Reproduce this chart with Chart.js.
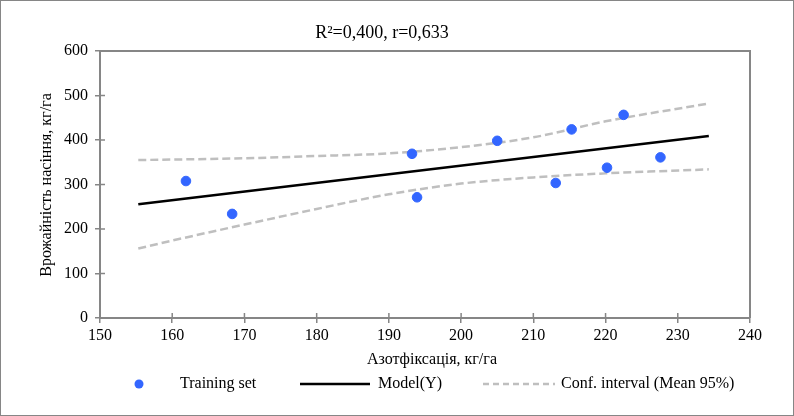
<!DOCTYPE html>
<html>
<head>
<meta charset="utf-8">
<script src="https://cdn.jsdelivr.net/npm/chart.js@4.4.0/dist/chart.umd.min.js"></script>
<style>
  body { margin: 0; background: #fff; }
  #wrap { width: 794px; height: 416px; position: relative; }
</style>
</head>
<body>
<div id="wrap"><canvas id="scatterChart"></canvas></div>
<script>
const ctx = document.getElementById('scatterChart');

// training set
const nitrogenFix = [161.9, 168.3, 193.2, 193.9, 205.0, 215.3, 213.1, 220.2, 222.5, 227.6];
const seedYield = [307.8, 233.9, 369.0, 271.3, 398.2, 423.8, 303.4, 337.7, 456.5, 361.0];

// model line ends
const modelX = [155.3, 234.3];
const modelY = [255.6, 408.8];

// confidence band (mean 95%)
const ciX = [155.3, 160, 170, 180, 190, 200, 210, 220, 234.3];
const ciUpper = [355, 356, 359, 364, 370, 384, 406, 442, 482];
const ciLower = [156, 174, 210, 245, 278, 302, 316, 325, 334];

const xTicks = [150, 160, 170, 180, 190, 200, 210, 220, 230, 240];
const yTicks = [0, 100, 200, 300, 400, 500, 600];

const titleText = 'R²=0,400, r=0,633';
const xTitle = 'Азотфіксація, кг/га';
const yTitle = 'Врожайність насіння, кг/га';
const legendLabels = ['Training set', 'Model(Y)', 'Conf. interval (Mean 95%)'];

const FONT = "'Liberation Serif', 'Times New Roman', serif";
const AXIS_GRAY = '#868686';

function pts(xs, ys) {
    return xs.map((x, i) => ({ x: x, y: ys[i] }));
}

// frame, titles, inner tick halves and custom legend
const decor = {
    id: 'decor',
    afterDraw(chart) {
        const c = chart.ctx;
        const a = chart.chartArea;
        const xs = chart.scales.x, ys = chart.scales.y;
        c.save();
        c.strokeStyle = AXIS_GRAY;
        c.lineWidth = 1;
        c.strokeRect(0.5, 0.5, chart.width - 1, chart.height - 1);

        c.lineWidth = 2;
        c.beginPath();
        c.moveTo(a.left, a.top); c.lineTo(a.right, a.top); c.lineTo(a.right, a.bottom);
        c.stroke();

        c.lineWidth = 1.5;
        c.beginPath();
        xs.ticks.forEach(t => {
            const px = xs.getPixelForValue(t.value);
            c.moveTo(px, a.bottom); c.lineTo(px, a.bottom - 5);
        });
        ys.ticks.forEach(t => {
            const py = ys.getPixelForValue(t.value);
            c.moveTo(a.left, py); c.lineTo(a.left + 5, py);
        });
        c.stroke();

        c.fillStyle = '#000';
        c.textBaseline = 'middle';
        c.textAlign = 'center';
        c.font = '18px ' + FONT;
        c.fillText(titleText, 382, 33);

        c.font = '16px ' + FONT;
        c.fillText(xTitle, 432, 360);
        c.save();
        c.translate(47, 185);
        c.rotate(-Math.PI / 2);
        c.fillText(yTitle, 0, 0);
        c.restore();

        // legend
        const ly = 384;
        const d = chart.data.datasets;
        c.fillStyle = d[0].backgroundColor;
        c.beginPath();
        c.arc(139, ly, 4.5, 0, Math.PI * 2);
        c.fill();

        c.strokeStyle = d[1].borderColor;
        c.lineWidth = d[1].borderWidth;
        c.beginPath(); c.moveTo(300, ly); c.lineTo(370, ly); c.stroke();

        c.strokeStyle = d[2].borderColor;
        c.lineWidth = d[2].borderWidth;
        c.setLineDash([6, 4]);
        c.beginPath(); c.moveTo(483, ly); c.lineTo(555, ly); c.stroke();
        c.setLineDash([]);

        c.fillStyle = '#000';
        c.textAlign = 'left';
        c.fillText(legendLabels[0], 180, ly);
        c.fillText(legendLabels[1], 378, ly);
        c.fillText(legendLabels[2], 561, ly);
        c.restore();
    }
};

const ciStyle = {
    type: 'line',
    showLine: true,
    borderColor: '#bfbfbf',
    borderWidth: 2.5,
    borderDash: [8, 4],
    pointRadius: 0,
    fill: false,
    cubicInterpolationMode: 'monotone'
};

var chart = {
    type: 'scatter',
    data: {
        datasets: [
            {
                label: legendLabels[0],
                data: pts(nitrogenFix, seedYield),
                backgroundColor: '#3366ff',
                borderColor: '#3366ff',
                pointRadius: 4.8,
                pointHoverRadius: 4.8,
                order: 0
            },
            {
                label: legendLabels[1],
                type: 'line',
                data: pts(modelX, modelY),
                borderColor: '#000',
                borderWidth: 2.5,
                pointRadius: 0,
                fill: false,
                order: 1
            },
            Object.assign({ label: legendLabels[2], data: pts(ciX, ciUpper), order: 2 }, ciStyle),
            Object.assign({ label: legendLabels[2] + ' low', data: pts(ciX, ciLower), order: 2 }, ciStyle)
        ]
    },
    options: {
        responsive: true,
        maintainAspectRatio: false,
        animation: false,
        events: [],
        layout: { padding: { top: 51, right: 44, left: 0, bottom: 0 } },
        plugins: {
            legend: { display: false },
            title: { display: false },
            tooltip: { enabled: false }
        },
        scales: {
            x: {
                type: 'linear',
                min: 150,
                max: 240,
                afterBuildTicks: s => { s.ticks = xTicks.map(v => ({ value: v })); },
                afterFit: s => { s.height = 98; },
                ticks: { color: '#000', padding: 3, font: { family: FONT, size: 16 } },
                grid: { drawOnChartArea: false, tickLength: 5, color: AXIS_GRAY, lineWidth: 1.5 },
                border: { color: AXIS_GRAY, width: 2 }
            },
            y: {
                min: 0,
                max: 600,
                afterBuildTicks: s => { s.ticks = yTicks.map(v => ({ value: v })); },
                afterFit: s => { s.width = 100; },
                ticks: { color: '#000', padding: 7, font: { family: FONT, size: 16 } },
                grid: { drawOnChartArea: false, tickLength: 5, color: AXIS_GRAY, lineWidth: 1.5 },
                border: { color: AXIS_GRAY, width: 2 }
            }
        }
    },
    plugins: [decor]
};

let chart1 = new Chart(ctx, chart);
</script>
</body>
</html>
